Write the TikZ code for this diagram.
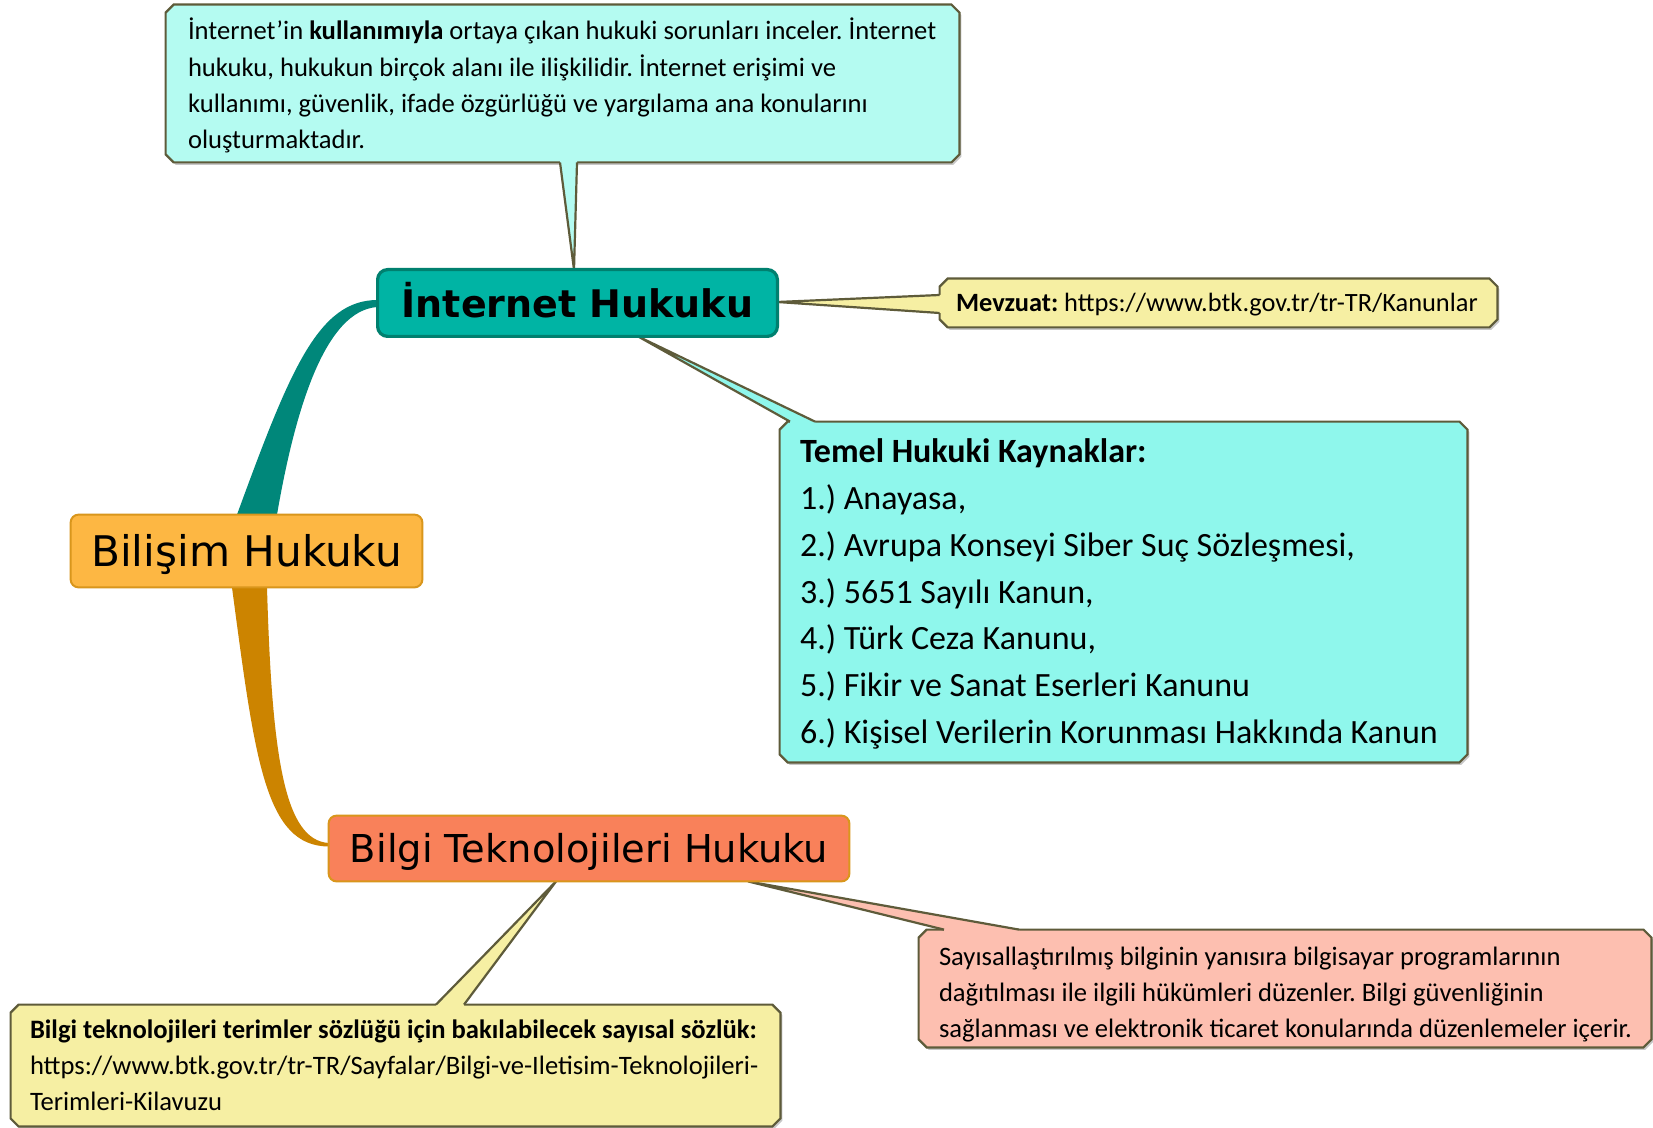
\documentclass[tikz,border=0pt]{standalone}
\usepackage{fontspec}
\setmainfont{Carlito}
\newfontfamily\dvs{DejaVu Sans}
\usetikzlibrary{shadows,calc}
\definecolor{tealfill}{HTML}{00B4A4}
\definecolor{tealline}{HTML}{00806F}
\definecolor{tealrib}{HTML}{00877A}
\definecolor{orfill}{HTML}{FDB743}
\definecolor{orline}{HTML}{D9961C}
\definecolor{orrib}{HTML}{CC8400}
\definecolor{salfill}{HTML}{F9815A}
\definecolor{cline}{HTML}{5E5B3A}
\definecolor{cyanA}{HTML}{B4FBF1}
\definecolor{cyanB}{HTML}{8FF7EC}
\definecolor{yelC}{HTML}{F6EFA3}
\definecolor{pinkC}{HTML}{FDBFB0}
\tikzset{
  cbox/.style={rectangle, inner sep=0pt},
  chamf/.style={draw=cline, line width=1.1pt, line join=miter,
    drop shadow={shadow xshift=1pt, shadow yshift=-1.2pt, fill=black, opacity=0.22}},
  ctext/.style={anchor=west, align=left, inner sep=0pt,
    font=\fontsize{13.3}{18.1}\selectfont},
  ptr/.style={draw=cline, line width=1.1pt, line join=miter},
  mainnode/.style={rectangle, inner sep=0pt},
}
\newcommand\chamferbox[2]{%
  \path[chamf, fill=#2]
   ($(#1.north west)+(8,0)$) -- ($(#1.north east)+(-8,0)$) --
   ($(#1.north east)+(0,8)$) -- ($(#1.south east)+(0,-8)$) --
   ($(#1.south east)+(-8,0)$) -- ($(#1.south west)+(8,0)$) --
   ($(#1.south west)+(0,-8)$) -- ($(#1.north west)+(0,8)$) -- cycle;}
\frenchspacing
\begin{document}
\begin{tikzpicture}[x=0.5pt,y=-0.5pt]
\useasboundingbox[fill=white] (0,0) rectangle (1653,1128);

% main nodes (placed first for anchors, drawn on top later)
\node[mainnode, minimum width=199.5pt, minimum height=33pt] (int) at (577.5,303) {};
\node[mainnode, minimum width=175.5pt, minimum height=36pt] (bil) at (246.5,551) {};
\node[mainnode, minimum width=260pt, minimum height=32.5pt] (bt) at (589,848.5) {};

% ribbons
\coordinate (t1) at ($(bil.north)+(-9.5,0)$);
\coordinate (t2) at ($(bil.north)+(30.5,0)$);
\coordinate (t3) at ($(int.west)+(0,-3)$);
\coordinate (t4) at ($(int.west)+(0,4)$);
\fill[tealrib] (t1) .. controls (290,370) and (318,300) .. (t3)
  -- (t4) .. controls (325,310) and (295,410) .. (t2) -- cycle;
\coordinate (o1) at ($(bil.south)+(-14.5,0)$);
\coordinate (o2) at ($(bil.south)+(20.5,0)$);
\coordinate (o3) at ($(bt.west)+(0,-5.5)$);
\coordinate (o4) at ($(bt.west)+(0,-2)$);
\fill[orrib] (o1) .. controls (255,760) and (265,846) .. (o4)
  -- (o3) .. controls (285,840) and (272,760) .. (o2) -- cycle;

% callout 1 (top)
\node[cbox, minimum width=396.5pt, minimum height=78.5pt] (c1box) at (562.5,83.5) {};
\chamferbox{c1box}{cyanA}
\coordinate (p1a) at ($(c1box.south)+(-2.5,0)$);
\coordinate (p1b) at ($(c1box.south)+(14.5,0)$);
\coordinate (p1t) at ($(int.north)+(-3.5,0)$);
\fill[cyanA] (p1t) -- (p1a) -- ($(p1a)+(0,-3)$) -- ($(p1b)+(0,-3)$) -- (p1b) -- cycle;
\draw[ptr] (p1a) -- (p1t) -- (p1b);
\node[ctext] (c1) at ($(c1box.west)+(22,2)$) {İnternet’in \textbf{kullanımıyla} ortaya çıkan hukuki sorunları inceler. İnternet\\
hukuku, hukukun birçok alanı ile ilişkilidir. İnternet erişimi ve\\
kullanımı, güvenlik, ifade özgürlüğü ve yargılama ana konularını\\
oluşturmaktadır.};

% callout 2 (Mevzuat)
\node[cbox, minimum width=278.5pt, minimum height=24pt] (c2box) at (1218.5,303) {};
\chamferbox{c2box}{yelC}
\coordinate (p2a) at ($(c2box.west)+(0,-8)$);
\coordinate (p2b) at ($(c2box.west)+(0,10)$);
\coordinate (p2t) at ($(int.east)+(0,-1)$);
\fill[yelC] (p2t) -- (p2a) -- ($(p2a)+(3,0)$) -- ($(p2b)+(3,0)$) -- (p2b) -- cycle;
\draw[ptr] (p2a) -- (p2t) -- (p2b);
\node[ctext, font=\fontsize{13.2}{18}\selectfont] (c2) at ($(c2box.west)+(16,2)$) {\textbf{Mevzuat:} https://www.btk.gov.tr/tr-TR/Kanunlar};

% callout 3 (Temel)
\node[cbox, minimum width=343.5pt, minimum height=170pt] (c3box) at (1123.5,592) {};
\chamferbox{c3box}{cyanB}
\coordinate (p3a) at ($(c3box.north)+(-333.5,0)$);
\coordinate (p3b) at ($(c3box.north)+(-308.5,0)$);
\coordinate (p3t) at ($(int.south)+(60.5,0)$);
\fill[cyanB] (p3t) -- (p3a) -- ($(p3a)+(0,3)$) -- ($(p3b)+(0,3)$) -- (p3b) -- cycle;
\draw[ptr] (p3a) -- (p3t) -- (p3b);
\node[ctext, font=\fontsize{17}{23.4}\selectfont] (c3) at ($(c3box.west)+(20,2)$) {\textbf{Temel Hukuki Kaynaklar:}\\
1.) Anayasa,\\
2.) Avrupa Konseyi Siber Suç Sözleşmesi,\\
3.) 5651 Sayılı Kanun,\\
4.) Türk Ceza Kanunu,\\
5.) Fikir ve Sanat Eserleri Kanunu\\
6.) Kişisel Verilerin Korunması Hakkında Kanun};

% callout 4 (pink)
\node[cbox, minimum width=366pt, minimum height=58.5pt] (c4box) at (1285,988.5) {};
\chamferbox{c4box}{pinkC}
\coordinate (p4a) at ($(c4box.north)+(-341,0)$);
\coordinate (p4b) at ($(c4box.north)+(-266,0)$);
\coordinate (p4t) at ($(bt.south)+(159,0)$);
\fill[pinkC] (p4t) -- (p4a) -- ($(p4a)+(0,3)$) -- ($(p4b)+(0,3)$) -- (p4b) -- cycle;
\draw[ptr] (p4a) -- (p4t) -- (p4b);
\node[ctext] (c4) at ($(c4box.west)+(20,6)$) {Sayısallaştırılmış bilginin yanısıra bilgisayar programlarının\\
dağıtılması ile ilgili hükümleri düzenler. Bilgi güvenliğinin\\
sağlanması ve elektronik ticaret konularında düzenlemeler içerir.};

% callout 5 (yellow bottom)
\node[cbox, minimum width=384.5pt, minimum height=60.5pt] (c5box) at (395.5,1065.5) {};
\chamferbox{c5box}{yelC}
\coordinate (p5a) at ($(c5box.north)+(40.5,0)$);
\coordinate (p5b) at ($(c5box.north)+(68.5,0)$);
\coordinate (p5t) at ($(bt.south)+(-33,0)$);
\fill[yelC] (p5t) -- (p5a) -- ($(p5a)+(0,3)$) -- ($(p5b)+(0,3)$) -- (p5b) -- cycle;
\draw[ptr] (p5a) -- (p5t) -- (p5b);
\node[ctext] (c5) at ($(c5box.west)+(19,0)$) {\textbf{Bilgi teknolojileri terimler sözlüğü için bakılabilecek sayısal sözlük:}\\
https://www.btk.gov.tr/tr-TR/Sayfalar/Bilgi-ve-Iletisim-Teknolojileri-\\
Terimleri-Kilavuzu};

% main nodes drawn on top
\draw[fill=tealfill, draw=tealline, line width=1.6pt, rounded corners=5pt]
  (int.north west) rectangle (int.south east);
\node[font=\dvs\bfseries\fontsize{19}{22}\selectfont, inner sep=0pt] (intt) at ($(int.center)+(0,-3)$) {İnternet Hukuku};
\draw[fill=orfill, draw=orline, line width=1pt, rounded corners=4pt]
  (bil.north west) rectangle (bil.south east);
\node[font=\dvs\fontsize{21.1}{24}\selectfont, inner sep=0pt] (bilt) at ($(bil.center)+(0,4)$) {Bilişim Hukuku};
\draw[fill=salfill, draw=orline, line width=1pt, rounded corners=4pt]
  (bt.north west) rectangle (bt.south east);
\node[font=\dvs\fontsize{19.2}{22}\selectfont, inner sep=0pt] (btt) at ($(bt.center)+(0,3)$) {Bilgi Teknolojileri Hukuku};
\end{tikzpicture}
\end{document}
